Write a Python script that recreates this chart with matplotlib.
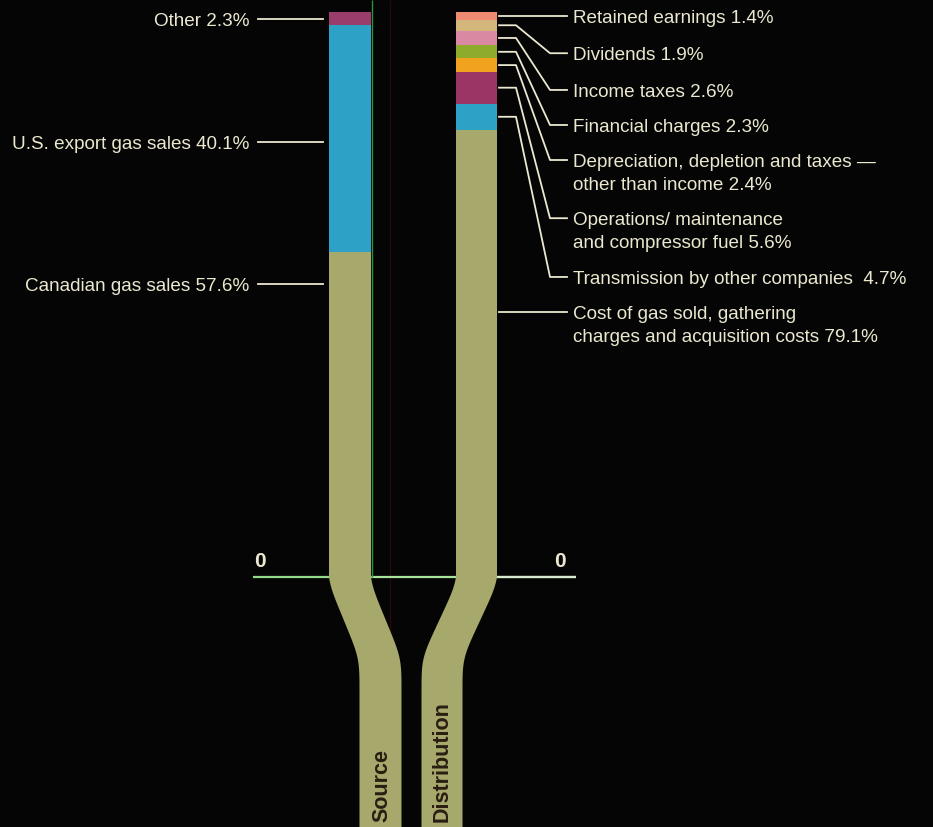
import numpy as np
import matplotlib.pyplot as plt
from matplotlib.transforms import offset_copy

# Where the money comes from (bottom to top)
source_labels = ['Canadian gas sales', 'U.S. export gas sales', 'Other']
source_pct = [57.6, 40.1, 2.3]
source_colors = ['#a6a96b', '#2ea2c6', '#9b3d6c']

# Where the money goes (bottom to top)
dist_labels = ['Cost of gas sold, gathering\ncharges and acquisition costs',
               'Transmission by other companies ',
               'Operations/ maintenance\nand compressor fuel',
               'Depreciation, depletion and taxes \u2014\nother than income',
               'Financial charges',
               'Income taxes',
               'Dividends',
               'Retained earnings']
dist_pct = [79.1, 4.7, 5.6, 2.4, 2.3, 2.6, 1.9, 1.4]
dist_colors = ['#a6a96b', '#2ea2c6', '#9a3565', '#f1a21f',
               '#8fab2c', '#d98aa2', '#d3b67a', '#f08b73']

# label heights on the percent scale (first text line)
source_label_y = [51.9, 77.0, 98.8]
dist_label_y = [46.9, 53.1, 63.5, 73.8, 80.0, 86.2, 92.7, 99.3]

BG = '#050505'
TXT = '#ebe8cf'
OLIVE = '#a6a96b'

fig = plt.figure(figsize=(9.33, 8.27), dpi=100, facecolor=BG)
ax = fig.add_axes([0, 0, 1, 1])
ax.set_facecolor(BG)
ax.set_xlim(0, 933)
ax.set_ylim(-44.25, 102.12)
ax.axis('off')
plt.rcParams['font.family'] = 'Liberation Sans'

src_x, src_w = 350, 42
dst_x, dst_w = 476.5, 41

# zero line and the thin rules between the columns
ax.hlines(0, 253, 372, color='#93d98a', lw=1.6, zorder=1)
ax.hlines(0, 372, 576, color='#a7e39a', lw=1.6, zorder=1)
ax.hlines(0, 497, 576, color='#d8ebd0', lw=1.6, zorder=1)
ax.vlines(371.8, 0, 102.12, color='#2f8f3a', lw=1.0, zorder=1)
ax.vlines(390, -44.25, 102.12, color='#2a0808', lw=1.0, zorder=0)

# stacked columns above zero
for x, w, vals, cols in [(src_x, src_w, source_pct, source_colors),
                         (dst_x, dst_w, dist_pct, dist_colors)]:
    bottoms = np.concatenate([[0], np.cumsum(vals)[:-1]])
    ax.bar(x, vals, bottom=bottoms, width=w, color=cols, lw=0, zorder=2)


def ribbon(x_top, x_bot, w):
    # olive stem that bends from the column down to the bottom edge
    y = np.linspace(0, -44.25, 600)
    t = np.clip((-y - 0.8) / 13.6, 0, 1)
    n = 90
    k = np.exp(-0.5 * (np.arange(-n, n + 1) / 28.0) ** 2)
    k /= k.sum()
    t = np.convolve(np.pad(t, n, mode='edge'), k, mode='valid')
    t = (t - t[0]) / (t[-1] - t[0])
    xc = x_top + (x_bot - x_top) * t
    xs = np.concatenate([xc - w / 2, (xc + w / 2)[::-1]])
    ys = np.concatenate([y, y[::-1]])
    ax.fill(xs, ys, color=OLIVE, lw=0, zorder=2)
    return x_bot


sx = ribbon(src_x, 380.5, src_w)
dx = ribbon(dst_x, 442, dst_w)

ax.text(sx + 1, -43.4, 'Source', rotation=90, rotation_mode='anchor',
        ha='left', va='center', fontsize=15.5, fontweight='bold',
        color='#2a1d12', zorder=3)
ax.text(dx, -43.4, 'Distribution', rotation=90, rotation_mode='anchor',
        ha='left', va='center', fontsize=15.5, fontweight='bold',
        color='#2a1d12', zorder=3)

ax.text(260, 1.1, '0', ha='center', va='bottom', fontsize=15,
        fontweight='bold', color=TXT)
ax.text(560, 1.1, '0', ha='center', va='bottom', fontsize=15,
        fontweight='bold', color=TXT)

# text top sits a little above the leader so the leader meets the cap middle
top = offset_copy(ax.transData, fig=fig, x=0, y=6, units='dots')
fs = 13.6

# left labels
for lab, pct, ly in zip(source_labels, source_pct, source_label_y):
    ax.plot([258, 323], [ly, ly], color=TXT, lw=1.3, zorder=3)
    ax.text(249, ly, f'{lab} {pct}%', transform=top, ha='right',
            va='top', fontsize=fs, color=TXT)

# right labels with bent leaders
tops = np.cumsum(dist_pct)
for lab, pct, seg_top, ly in zip(dist_labels, dist_pct, tops, dist_label_y):
    bot = seg_top - pct
    if bot <= ly <= seg_top:
        ax.plot([499, 567], [ly, ly], color=TXT, lw=1.3, zorder=3)
    else:
        mid = seg_top - pct / 2
        ax.plot([499, 516, 550, 567], [mid, mid, ly, ly], color=TXT,
                lw=1.3, zorder=3)
    ax.text(573, ly, f'{lab} {pct}%', transform=top, ha='left',
            va='top', fontsize=fs, color=TXT, linespacing=1.45)

fig.savefig('out.png', dpi=100, facecolor=BG)
